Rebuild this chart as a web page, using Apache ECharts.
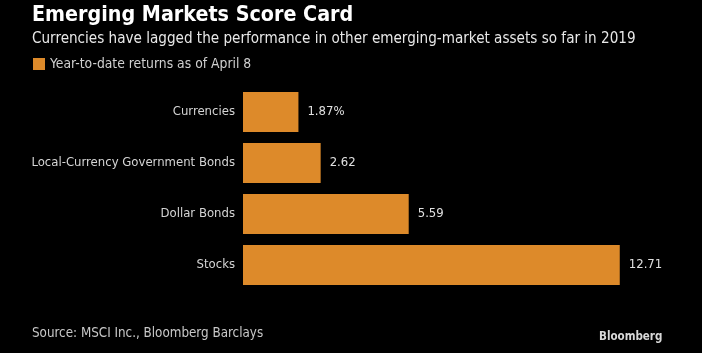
<!DOCTYPE html>
<html>
<head>
<meta charset="utf-8">
<script src="https://cdn.jsdelivr.net/npm/echarts@6/dist/echarts.min.js"></script>
<style>
  html, body { margin: 0; padding: 0; background: #000; }
  #main { width: 702px; height: 353px; }
</style>
</head>
<body>
<div id="main"></div>
<script>
'use strict'

// categories top to bottom
const categories = ['Currencies', 'Local-Currency Government Bonds', 'Dollar Bonds', 'Stocks'];
// year-to-date returns, percent
const returns = [1.87, 2.62, 5.59, 12.71];
const valueLabels = ['1.87%', '2.62', '5.59', '12.71'];

const FONT = '"DejaVu Sans Condensed", "DejaVu Sans", sans-serif';
const BAR = '#dd8a2a';

var myChart = echarts.init(document.getElementById('main'));

var option = {
  backgroundColor: '#000',
  textStyle: { fontFamily: FONT },
  title: [
    {
      text: 'Emerging Markets Score Card',
      left: 27, top: 0,
      textStyle: { color: '#fff', fontSize: 21.3, fontWeight: 'bold', fontFamily: FONT }
    },
    {
      text: 'Currencies have lagged the performance in other emerging-market assets so far in 2019',
      left: 27, top: 27,
      textStyle: { color: '#e8e8e8', fontSize: 15.1, fontWeight: 'normal', fontFamily: FONT }
    },
    {
      text: 'Source: MSCI Inc., Bloomberg Barclays',
      left: 27, top: 322,
      textStyle: { color: '#c8c8c8', fontSize: 13.3, fontWeight: 'normal', fontFamily: FONT }
    },
    {
      text: 'Bloomberg',
      left: 594, top: 326,
      textStyle: { color: '#d8d8d8', fontSize: 11.5, fontWeight: 'bold', fontFamily: FONT }
    }
  ],
  legend: {
    left: 28, top: 52,
    icon: 'rect',
    itemWidth: 12, itemHeight: 12,
    itemGap: 8,
    textStyle: { color: '#d0d0d0', fontSize: 13.8, fontFamily: FONT },
    data: ['Year-to-date returns as of April 8']
  },
  grid: { left: 243, top: 86.5, width: 415, height: 204 },
  xAxis: {
    type: 'value',
    min: 0, max: 14,
    show: false
  },
  yAxis: {
    type: 'category',
    inverse: true,
    data: categories,
    axisLine: { show: false },
    axisTick: { show: false },
    axisLabel: { color: '#d4d4d4', fontSize: 13, margin: 8, fontFamily: FONT }
  },
  series: [
    {
      name: 'Year-to-date returns as of April 8',
      type: 'bar',
      data: returns,
      barWidth: 40,
      itemStyle: { color: BAR },
      label: {
        show: true,
        position: 'right',
        distance: 9,
        color: '#e0e0e0',
        fontSize: 13,
        fontFamily: FONT,
        formatter: function (p) { return valueLabels[p.dataIndex]; }
      }
    }
  ]
};

myChart.setOption(option);
</script>
</body>
</html>
